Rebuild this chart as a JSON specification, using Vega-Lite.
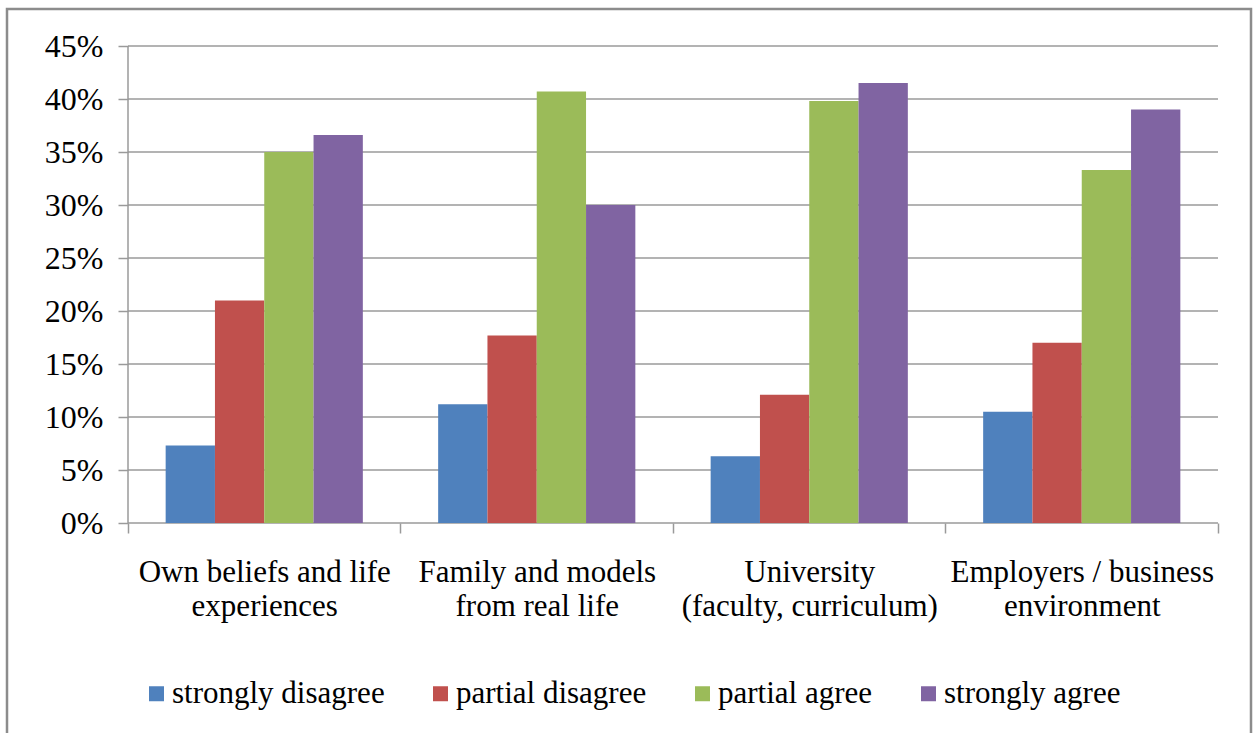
{
  "$schema": "https://vega.github.io/schema/vega-lite/v6.json",
  "width": 1244,
  "height": 727,
  "autosize": {"type": "none"},
  "padding": {"left": 7, "top": 9, "right": 6, "bottom": -3},
  "background": "white",
  "config": {
    "font": "Times New Roman, Liberation Serif, serif",
    "view": {"stroke": "#8c8c8c", "strokeWidth": 2.5},
    "axisX": {
      "orient": "bottom", "offset": -213, "title": null, "domain": false, "grid": false,
      "tickBand": "extent", "tickSize": 10, "tickColor": "#9a9a9a", "tickWidth": 1.5,
      "labelFontSize": 31, "labelLineHeight": 34, "labelPadding": 24, "labelLimit": 0,
      "labelAngle": 0, "labelColor": "black", "labelFont": "Times New Roman, Liberation Serif, serif",
      "labelOverlap": false, "labelBound": false, "labelFlush": false
    },
    "axisY": {
      "offset": -121, "title": null, "domain": false, "grid": false,
      "tickSize": 10, "tickColor": "#9a9a9a", "tickWidth": 1.5,
      "labelFontSize": 32, "labelPadding": 15, "labelColor": "black", "labelFont": "Times New Roman, Liberation Serif, serif"
    }
  },
  "datasets": {
    "bars": [
      {"source": "Own beliefs and life experiences", "response": "strongly disagree", "share": 0.073},
      {"source": "Own beliefs and life experiences", "response": "partial disagree", "share": 0.21},
      {"source": "Own beliefs and life experiences", "response": "partial agree", "share": 0.35},
      {"source": "Own beliefs and life experiences", "response": "strongly agree", "share": 0.366},
      {"source": "Family and models from real life", "response": "strongly disagree", "share": 0.112},
      {"source": "Family and models from real life", "response": "partial disagree", "share": 0.177},
      {"source": "Family and models from real life", "response": "partial agree", "share": 0.407},
      {"source": "Family and models from real life", "response": "strongly agree", "share": 0.300},
      {"source": "University (faculty, curriculum)", "response": "strongly disagree", "share": 0.063},
      {"source": "University (faculty, curriculum)", "response": "partial disagree", "share": 0.121},
      {"source": "University (faculty, curriculum)", "response": "partial agree", "share": 0.398},
      {"source": "University (faculty, curriculum)", "response": "strongly agree", "share": 0.415},
      {"source": "Employers / business environment", "response": "strongly disagree", "share": 0.105},
      {"source": "Employers / business environment", "response": "partial disagree", "share": 0.170},
      {"source": "Employers / business environment", "response": "partial agree", "share": 0.333},
      {"source": "Employers / business environment", "response": "strongly agree", "share": 0.390}
    ],
    "grid": [
      {"v": 0}, {"v": 0.05}, {"v": 0.10}, {"v": 0.15}, {"v": 0.20},
      {"v": 0.25}, {"v": 0.30}, {"v": 0.35}, {"v": 0.40}, {"v": 0.45}
    ]
  },
  "layer": [
    {
      "data": {"name": "grid"},
      "mark": {"type": "rule", "color": "#9a9a9a", "strokeWidth": 1.5},
      "encoding": {
        "x": {
          "datum": "Own beliefs and life experiences", "type": "nominal", "bandPosition": 0,
          "scale": {"type": "band", "domain": ["Own beliefs and life experiences", "Family and models from real life", "University (faculty, curriculum)", "Employers / business environment"], "paddingInner": 0, "paddingOuter": 0.28257, "align": 0.7857},
          "axis": {
            "title": null,
            "labelExpr": "datum.label == 'Own beliefs and life experiences' ? ['Own beliefs and life', 'experiences'] : datum.label == 'Family and models from real life' ? ['Family and models', 'from real life'] : datum.label == 'University (faculty, curriculum)' ? ['University', '(faculty, curriculum)'] : datum.label == 'Employers / business environment' ? ['Employers / business', 'environment'] : ''"
          }
        },
        "x2": {"datum": "Employers / business environment", "bandPosition": 1},
        "y": {
          "field": "v", "type": "quantitative",
          "scale": {"domain": [-0.20094, 0.48491], "nice": false, "zero": false},
          "axis": {
            "title": null,
            "values": [0, 0.05, 0.1, 0.15, 0.2, 0.25, 0.3, 0.35, 0.4, 0.45],
            "format": ".0%"
          }
        }
      }
    },
    {
      "data": {"name": "bars"},
      "mark": {"type": "bar"},
      "encoding": {
        "x": {
          "field": "source", "type": "nominal", "title": null,
          "scale": {"type": "band", "domain": ["Own beliefs and life experiences", "Family and models from real life", "University (faculty, curriculum)", "Employers / business environment"], "paddingInner": 0, "paddingOuter": 0.28257, "align": 0.7857}
        },
        "xOffset": {
          "field": "response", "type": "nominal",
          "scale": {"domain": ["strongly disagree", "partial disagree", "partial agree", "strongly agree"], "paddingInner": 0, "paddingOuter": 0.764}
        },
        "y": {
          "field": "share", "type": "quantitative", "title": null,
          "scale": {"domain": [-0.20094, 0.48491], "nice": false, "zero": false}
        },
        "color": {
          "field": "response", "type": "nominal",
          "scale": {"domain": ["strongly disagree", "partial disagree", "partial agree", "strongly agree"], "range": ["#4F81BD", "#C0504D", "#9BBB59", "#8064A2"]},
          "legend": {
            "orient": "none", "legendX": 134, "legendY": 669, "direction": "horizontal", "columns": 4,
            "title": null, "symbolType": "square", "symbolSize": 225, "symbolStrokeWidth": 0,
            "labelFontSize": 31, "labelOffset": 0, "columnPadding": 40, "labelColor": "black",
            "labelFont": "Times New Roman, Liberation Serif, serif", "padding": 0, "labelLimit": 0
          }
        }
      }
    },
    {
      "data": {"values": [{}]},
      "mark": {"type": "rule", "color": "#9a9a9a", "strokeWidth": 1.5},
      "encoding": {
        "x": {"datum": "Own beliefs and life experiences", "type": "nominal", "bandPosition": 0, "title": null,
          "scale": {"type": "band", "domain": ["Own beliefs and life experiences", "Family and models from real life", "University (faculty, curriculum)", "Employers / business environment"], "paddingInner": 0, "paddingOuter": 0.28257, "align": 0.7857}},
        "y": {"datum": 0, "type": "quantitative", "title": null, "scale": {"domain": [-0.20094, 0.48491], "nice": false, "zero": false}},
        "y2": {"datum": 0.45}
      }
    }
  ]
}
